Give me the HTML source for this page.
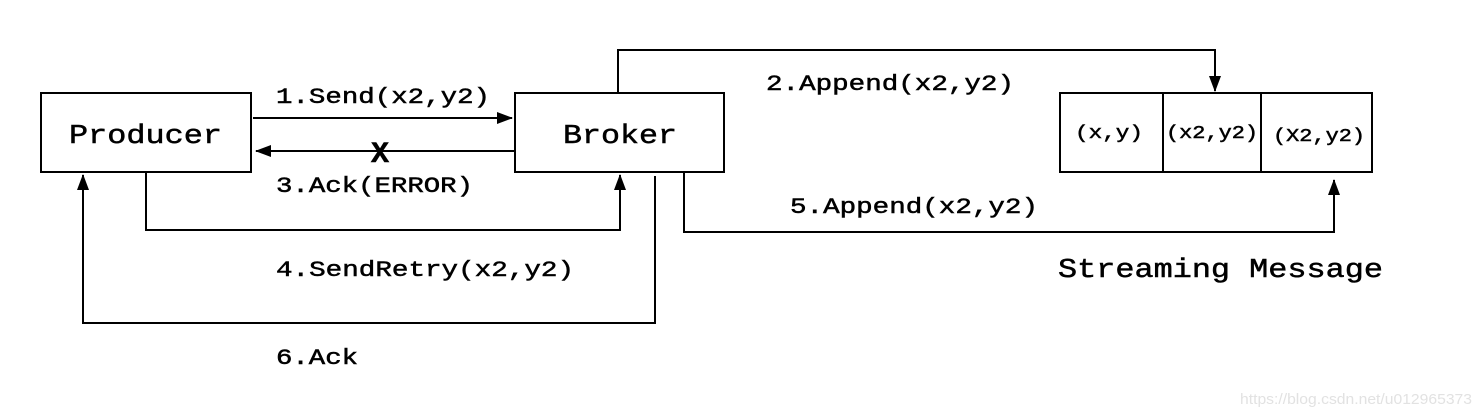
<!DOCTYPE html>
<html><head><meta charset="utf-8"><style>html,body{margin:0;padding:0;background:#fff}svg{display:block}</style></head>
<body>
<svg width="1483" height="417" viewBox="0 0 1483 417" xmlns="http://www.w3.org/2000/svg">
<defs><marker id="a" markerWidth="16" markerHeight="12" refX="15" refY="6" orient="auto" markerUnits="userSpaceOnUse"><path d="M0,0 L16,6 L0,12 z" fill="#000"/></marker></defs>
<g fill="#fff" stroke="#000" stroke-width="2">
<rect x="41" y="93" width="210" height="79"/>
<rect x="515" y="93" width="209" height="79"/>
<rect x="1060" y="93" width="312" height="79"/>
<line x1="1163" y1="93" x2="1163" y2="172"/>
<line x1="1261" y1="93" x2="1261" y2="172"/>
</g>
<g fill="none" stroke="#000" stroke-width="2" marker-end="url(#a)">
<line x1="253" y1="118" x2="512" y2="118"/>
<line x1="515" y1="151" x2="256" y2="151"/>
<polyline points="618,92 618,50 1215,50 1215,91"/>
<polyline points="146,172 146,230 620,230 620,175"/>
<polyline points="684,172 684,232 1334,232 1334,180"/>
<polyline points="655,176 655,323 83,323 83,175"/>
</g>
<g font-family="Liberation Mono, monospace" fill="#000" stroke="#000" stroke-width="0.5" font-size="22">
<text x="69" y="143" font-size="27" textLength="153" lengthAdjust="spacingAndGlyphs">Producer</text>
<text x="563" y="143" font-size="27" textLength="114" lengthAdjust="spacingAndGlyphs">Broker</text>
<text x="276" y="103" textLength="214" lengthAdjust="spacingAndGlyphs">1.Send(x2,y2)</text>
<text x="276" y="192" textLength="197" lengthAdjust="spacingAndGlyphs">3.Ack(ERROR)</text>
<text x="766" y="90" textLength="248" lengthAdjust="spacingAndGlyphs">2.Append(x2,y2)</text>
<text x="790" y="213" textLength="248" lengthAdjust="spacingAndGlyphs">5.Append(x2,y2)</text>
<text x="276" y="276" textLength="298" lengthAdjust="spacingAndGlyphs">4.SendRetry(x2,y2)</text>
<text x="276" y="364" textLength="82" lengthAdjust="spacingAndGlyphs">6.Ack</text>
<text x="1058" y="277" font-size="27" textLength="325" lengthAdjust="spacingAndGlyphs">Streaming Message</text>
<text x="371" y="162" font-size="30" font-weight="bold">X</text>
<g font-size="18">
<text x="1075" y="138" textLength="68" lengthAdjust="spacingAndGlyphs">(x,y)</text>
<text x="1166" y="138" textLength="92" lengthAdjust="spacingAndGlyphs">(x2,y2)</text>
<text x="1273" y="141" textLength="92" lengthAdjust="spacingAndGlyphs">(X2,y2)</text>
</g>
</g>
<text x="1240" y="404" font-family="Liberation Sans, sans-serif" font-size="15" fill="#e2e2e2" textLength="232" lengthAdjust="spacingAndGlyphs">https://blog.csdn.net/u012965373</text>
</svg>
</body></html>
